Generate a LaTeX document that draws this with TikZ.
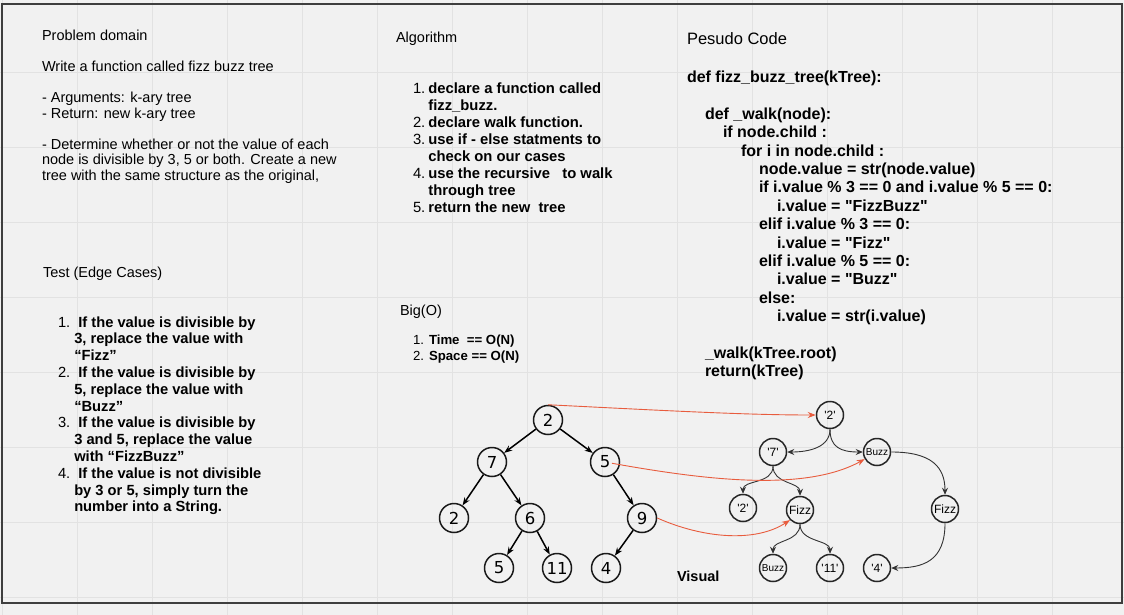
\documentclass[tikz,border=0pt]{standalone}
\usepackage{fontspec}
\setmainfont{Liberation Sans}
\newfontfamily\treefont{DejaVu Sans}
\usetikzlibrary{arrows.meta}
\definecolor{bgcol}{RGB}{241,241,241}
\definecolor{gridcol}{RGB}{226,226,226}
\definecolor{framecol}{RGB}{62,62,62}
\definecolor{walkred}{RGB}{232,92,62}
\newcommand{\quoted}[1]{\textquotesingle#1\textquotesingle}
\newcommand{\dq}[1]{\textquotedbl#1\textquotedbl}
\newcommand{\txtsize}{\fontsize{14.5}{15.5}\selectfont}
\newcommand{\ind}{\hspace*{18pt}}
\tikzset{
txt/.style={anchor=base west,inner sep=0pt,outer sep=0pt},
gridline/.style={color=gridcol,line width=0.8pt},
frame/.style={draw=framecol,line width=2pt},
numnode/.style={circle,draw=black!90,line width=1.5pt,minimum size=29pt,inner sep=0pt,font=\treefont\fontsize{16.5}{16.5}\selectfont},
strnode/.style={circle,draw=black!85,line width=1.5pt,minimum size=27pt,inner sep=0pt,font=\fontsize{12}{12}\selectfont},
smallstr/.style={strnode,font=\fontsize{10}{10}\selectfont},
arr/.style={-{Stealth[length=8pt,width=6pt]},line width=1.5pt},
carr/.style={-{Stealth[length=7pt,width=6pt]},line width=0.9pt,draw=black!80},
redarr/.style={-{Stealth[length=8pt,width=6pt]},line width=0.9pt,color=walkred},
}

\begin{document}
\begin{tikzpicture}[x=1pt,y=-1pt]
    % background, grid and frame
    \useasboundingbox[fill=bgcol] (0,0) rectangle (1124,615);
    \foreach \x in {2,77,...,1052}
        \draw[gridline] (\x,0) -- (\x,615);
    \foreach \y in {72,147,...,597}
        \draw[gridline] (0,\y) -- (1124,\y);
    \draw[frame] (2,4) rectangle (1122,603);

    % problem domain
    \node[txt] (domain) at (42,41) {\txtsize\begin{tabular}[t]{@{}l@{}}
        Problem domain\\ \\
        Write a function called fizz buzz tree\\ \\
        - Arguments: k-ary tree\\
        - Return: new k-ary tree\\ \\
        - Determine whether or not the value of each\\
        node is divisible by 3, 5 or both. Create a new\\
        tree with the same structure as the original,
    \end{tabular}};

    % tests
    \node[txt] (testhead) at (43,277) {\txtsize Test (Edge Cases)};
    \node[txt] (tests) at (58,327) {\fontsize{14.7}{16.8}\selectfont\begin{tabular}[t]{@{}l@{\hspace{4pt}}l@{}}
        1. & \textbf{\ If the value is divisible by}\\
           & \textbf{3, replace the value with}\\
           & \textbf{“Fizz”}\\
        2. & \textbf{\ If the value is divisible by}\\
           & \textbf{5, replace the value with}\\
           & \textbf{“Buzz”}\\
        3. & \textbf{\ If the value is divisible by}\\
           & \textbf{3 and 5, replace the value}\\
           & \textbf{with “FizzBuzz”}\\
        4. & \textbf{\ If the value is not divisible}\\
           & \textbf{by 3 or 5, simply turn the}\\
           & \textbf{number into a String.}
    \end{tabular}};

    % algorithm
    \node[txt] (alghead) at (396,43) {\txtsize Algorithm};
    \node[txt] (alg) at (413,94) {\fontsize{14.8}{17}\selectfont\begin{tabular}[t]{@{}l@{\hspace{3pt}}l@{}}
        1. & \textbf{declare a function called}\\
           & \textbf{fizz\_buzz.}\\
        2. & \textbf{declare walk function.}\\
        3. & \textbf{use if - else statments to}\\
           & \textbf{check on our cases}\\
        4. & \textbf{use the recursive \ \ to walk}\\
           & \textbf{through tree}\\
        5. & \textbf{return the new \ tree}
    \end{tabular}};

    % big o
    \node[txt] (bighead) at (400,315) {\txtsize Big(O)};
    \node[txt] (bigo) at (413,344.5) {\fontsize{13.2}{16}\selectfont\begin{tabular}[t]{@{}l@{\hspace{5pt}}l@{}}
        1. & \textbf{Time \ == O(N)}\\
        2. & \textbf{Space == O(N)}
    \end{tabular}};

    % pseudo code
    \node[txt] (codehead) at (687,45) {\fontsize{16.5}{16.5}\selectfont Pesudo Code};
    \node[txt] (code) at (687,82.5) {\fontsize{16}{18.4}\selectfont\bfseries\begin{tabular}[t]{@{}l@{}}
        def fizz\_buzz\_tree(kTree):\\ \\
        \ind def \_walk(node):\\
        \ind\ind if node.child :\\
        \ind\ind\ind for i in node.child :\\
        \ind\ind\ind\ind node.value = str(node.value)\\
        \ind\ind\ind\ind if i.value \% 3 == 0 and i.value \% 5 == 0:\\
        \ind\ind\ind\ind\ind i.value = \dq{FizzBuzz}\\
        \ind\ind\ind\ind elif i.value \% 3 == 0:\\
        \ind\ind\ind\ind\ind i.value = \dq{Fizz}\\
        \ind\ind\ind\ind elif i.value \% 5 == 0:\\
        \ind\ind\ind\ind\ind i.value = \dq{Buzz}\\
        \ind\ind\ind\ind else:\\
        \ind\ind\ind\ind\ind i.value = str(i.value)\\ \\
        \ind \_walk(kTree.root)\\
        \ind return(kTree)
    \end{tabular}};

    % input tree
    \node[numnode] (n2) at (548,420) {2};
    \node[numnode] (n7) at (492,462) {7};
    \node[numnode] (n5) at (605,462) {5};
    \node[numnode] (n2b) at (454,518) {2};
    \node[numnode] (n6) at (530,518) {6};
    \node[numnode] (n9) at (642,518) {9};
    \node[numnode] (n5b) at (499,568) {5};
    \node[numnode] (n11) at (557,568) {11};
    \node[numnode] (n4) at (606,568) {4};
    \foreach \a/\b in {n2/n7,n2/n5,n7/n2b,n7/n6,n6/n5b,n6/n11,n5/n9,n9/n4}
        \draw[arr] (\a) -- (\b);

    % output tree
    \node[strnode] (s2) at (830,415) {\quoted{2}};
    \node[strnode] (s7) at (773,452) {\quoted{7}};
    \node[smallstr] (sbuzz) at (877,452) {Buzz};
    \node[strnode] (s2b) at (743,508) {\quoted{2}};
    \node[strnode] (sfizz) at (800,510) {Fizz};
    \node[strnode] (sfizzb) at (945,509) {Fizz};
    \node[smallstr] (sbuzzb) at (773,568) {Buzz};
    \node[strnode] (s11) at (830,568) {\quoted{11}};
    \node[strnode] (s4) at (877,568) {\quoted{4}};

    \draw[carr] (s2.south) .. controls +(0,18) and +(22,0) .. (s7.east);
    \draw[carr] (s2.south) .. controls +(0,18) and +(-22,0) .. (sbuzz.west);
    \draw[carr] (s7.south) .. controls +(0,18) and +(0,-14) .. (s2b.north);
    \draw[carr] (s7.south) .. controls +(0,18) and +(0,-14) .. (sfizz.north);
    \draw[carr] (sfizz.south) .. controls +(0,18) and +(0,-14) .. (sbuzzb.north);
    \draw[carr] (sfizz.south) .. controls +(0,18) and +(0,-14) .. (s11.north);
    \draw[carr] (sbuzz.east) .. controls +(40,0) and +(0,-28) .. (sfizzb.north);
    \draw[carr] (sfizzb.south) .. controls +(0,38) and +(32,0) .. (s4.east);

    % mapping between the trees
    \draw[redarr] (n2.north) .. controls +(120,6) and +(-70,0) .. (s2.west);
    \draw[redarr,shorten <=7pt] (n5.center) .. controls +(100,18) and +(-60,33) .. (sbuzz.210);
    \draw[redarr] (n9.east) .. controls +(45,20) and +(-35,23) .. (sfizz.south west);

    \node[txt] (visual) at (677,581) {\fontsize{14.5}{14.5}\selectfont\bfseries Visual};
\end{tikzpicture}
\end{document}
